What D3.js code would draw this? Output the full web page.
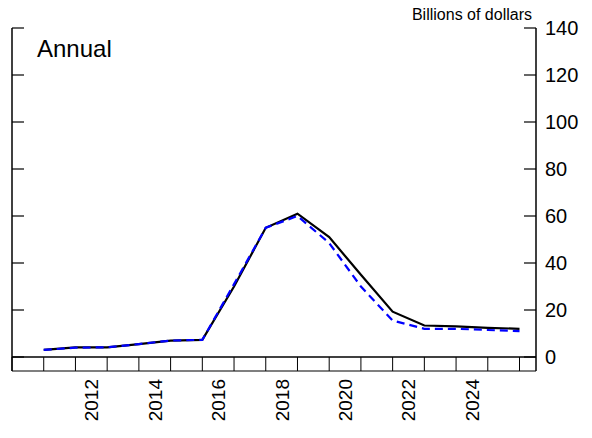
<!DOCTYPE html>
<meta charset="utf-8" />
<style>
  body { margin: 0; background: #fff; }
  text { font-family: "Liberation Sans", Arial, sans-serif; }
</style>
<body>
<div id="chart"></div>
<script src="https://d3js.org/d3.v7.min.js"></script>
<script>
  const years = [2011, 2012, 2013, 2014, 2015, 2016, 2017, 2018, 2019, 2020, 2021, 2022, 2023, 2024, 2025, 2026];
  const solid = [3, 4.1, 4.1, 5.5, 7, 7.3, 30, 55, 61, 51, 35, 19.3, 13.4, 13, 12.4, 12];
  const dashed = [3, 4, 4.1, 5.5, 7, 7.3, 31, 55, 60, 48.5, 30, 15.5, 12, 12, 11.5, 11];
  const yTicks = [0, 20, 40, 60, 80, 100, 120, 140];
  const yearLabels = [2012, 2014, 2016, 2018, 2020, 2022, 2024];

  const W = 592, H = 438;
  const mLeft = 12, mRight = 536, mTop = 28, mBottom = 357;

  const x = d3.scaleLinear().domain([2010, 2026.52]).range([mLeft, mRight]);
  const y = d3.scaleLinear().domain([0, 140]).range([mBottom, mTop]);

  const svg = d3.select("#chart").append("svg").attr("width", W).attr("height", H);

  // frame
  svg.append("line").attr("x1", mLeft).attr("x2", mLeft).attr("y1", mTop).attr("y2", mBottom + 14).attr("stroke", "#000").attr("stroke-width", 1.5);
  svg.append("line").attr("x1", mRight).attr("x2", mRight).attr("y1", mTop).attr("y2", mBottom + 14).attr("stroke", "#000").attr("stroke-width", 1.5);
  svg.append("line").attr("x1", mLeft).attr("x2", mRight).attr("y1", mBottom).attr("y2", mBottom).attr("stroke", "#000").attr("stroke-width", 1.5);
  svg.append("line").attr("x1", mLeft).attr("x2", mRight).attr("y1", mBottom + 14).attr("y2", mBottom + 14).attr("stroke", "#000").attr("stroke-width", 1.2);

  // y ticks, both sides
  const tg = svg.append("g");
  yTicks.forEach(t => {
    tg.append("line").attr("x1", mLeft).attr("x2", mLeft + 12).attr("y1", y(t)).attr("y2", y(t)).attr("stroke", "#000").attr("stroke-width", 1.2);
    tg.append("line").attr("x1", mRight - 12).attr("x2", mRight).attr("y1", y(t)).attr("y2", y(t)).attr("stroke", "#000").attr("stroke-width", 1.2);
    tg.append("text").attr("x", 545).attr("y", y(t) + 7).attr("font-size", 20).text(t);
  });

  // year cells
  d3.range(2010, 2027).forEach(yr => {
    svg.append("line").attr("x1", x(yr)).attr("x2", x(yr)).attr("y1", mBottom).attr("y2", mBottom + 14).attr("stroke", "#000").attr("stroke-width", 1);
  });
  yearLabels.forEach(yr => {
    const cx = x(yr + 0.5);
    svg.append("text").attr("transform", `translate(${cx + 7},${mBottom + 22}) rotate(-90)`)
      .attr("text-anchor", "end").attr("font-size", 19).text(yr);
  });

  const line = d3.line().x((d, i) => x(years[i])).y(d => y(d));
  svg.append("path").datum(solid).attr("d", line).attr("fill", "none").attr("stroke", "#000").attr("stroke-width", 2.2);
  svg.append("path").datum(dashed).attr("d", line).attr("fill", "none").attr("stroke", "#0000ff").attr("stroke-width", 2.2).attr("stroke-dasharray", "8,5");

  svg.append("text").attr("x", 532).attr("y", 20).attr("text-anchor", "end").attr("font-size", 16).text("Billions of dollars");
  svg.append("text").attr("x", 37).attr("y", 57).attr("font-size", 24).text("Annual");
</script>
</body>
